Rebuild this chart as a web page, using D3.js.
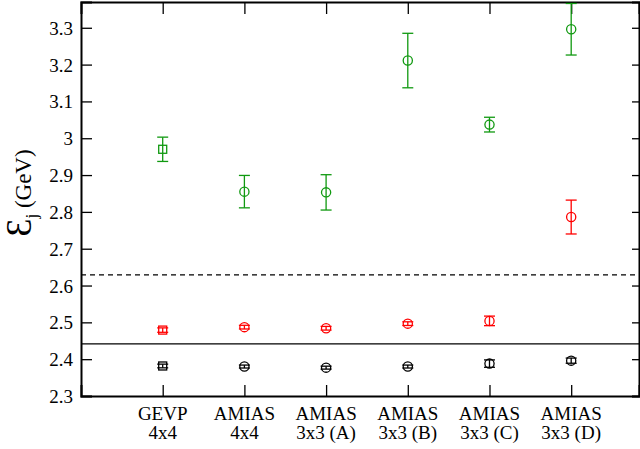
<!DOCTYPE html>
<html>
<head>
<meta charset="utf-8">
<script src="https://cdn.jsdelivr.net/npm/d3@7"></script>
<style>
  body { margin: 0; background: #fff; }
  svg { display: block; }
</style>
</head>
<body>
<svg id="chart" width="640" height="449"></svg>
<script>
// categories (two-line labels)
const categories = ["GEVP|4x4", "AMIAS|4x4", "AMIAS|3x3 (A)", "AMIAS|3x3 (B)", "AMIAS|3x3 (C)", "AMIAS|3x3 (D)"];
// marker shape per category
const shapes = ["square", "circle", "circle", "circle", "circle", "circle"];

// ground state (black)
const level0 = [2.3815, 2.380, 2.377, 2.380, 2.388, 2.396];
const level0Err = [0.005, 0.004, 0.004, 0.004, 0.010, 0.007];
// first excited (red)
const level1 = [2.479, 2.487, 2.484, 2.4965, 2.504, 2.786];
const level1Err = [0.006, 0.005, 0.005, 0.005, 0.013, 0.046];
// second excited (green)
const level2 = [2.970, 2.855, 2.853, 3.211, 3.037, 3.296];
const level2Err = [0.033, 0.044, 0.048, 0.074, 0.020, 0.070];

const yTicks = [2.3, 2.4, 2.5, 2.6, 2.7, 2.8, 2.9, 3.0, 3.1, 3.2, 3.3];
const solidLine = 2.4413;
const dashedLine = 2.629;

const serif = "'Liberation Serif', 'Times New Roman', Times, 'DejaVu Serif', serif";

const svg = d3.select("#chart");
const margin = { top: 2, right: 1, bottom: 53, left: 81 };
const width = 640, height = 449;

const x = d3.scaleLinear().domain([0, 6.83]).range([margin.left, width - margin.right]);
const y = d3.scaleLinear().domain([2.3, 3.37]).range([height - margin.bottom, margin.top]);

const series = [
  { vals: level0, errs: level0Err, color: "#000000" },
  { vals: level1, errs: level1Err, color: "#ff0000" },
  { vals: level2, errs: level2Err, color: "#109910" }
];

// reference lines
svg.append("line")
  .attr("x1", x(0)).attr("x2", x(6.83))
  .attr("y1", y(solidLine)).attr("y2", y(solidLine))
  .attr("stroke", "#000").attr("stroke-width", 1.2);
svg.append("line")
  .attr("x1", x(0)).attr("x2", x(6.83))
  .attr("y1", y(dashedLine)).attr("y2", y(dashedLine))
  .attr("stroke", "#000").attr("stroke-width", 1.2)
  .attr("stroke-dasharray", "5,4");

// axes: ticks point inward on all four sides
const yAxisL = d3.axisLeft(y).tickValues(yTicks).tickSize(-11).tickPadding(8)
  .tickFormat(d => d3.format("")(+d.toFixed(1)));
const gL = svg.append("g").attr("transform", `translate(${x(0)},0)`).call(yAxisL);
gL.attr("font-family", serif).attr("font-size", 19);
gL.selectAll("text").attr("fill", "#000").attr("dy", "0.34em");

const gR = svg.append("g").attr("transform", `translate(${x(6.83)},0)`)
  .call(d3.axisRight(y).tickValues(yTicks).tickSize(-7).tickFormat(""));

const xTicks = d3.range(1, categories.length + 1);
const gB = svg.append("g").attr("transform", `translate(0,${y(2.3)})`)
  .call(d3.axisBottom(x).tickValues(xTicks).tickSize(-11).tickFormat(""));
const gT = svg.append("g").attr("transform", `translate(0,${y(3.37)})`)
  .call(d3.axisTop(x).tickValues(xTicks).tickSize(-12).tickFormat(""));

[gL, gR, gB, gT].forEach(g => {
  g.select(".domain").attr("stroke", "#000").attr("stroke-width", 2);
  g.selectAll(".tick line").attr("stroke", "#000").attr("stroke-width", 1.3);
});

// x category labels
const lab = svg.append("g").attr("font-family", serif).attr("font-size", 19)
  .attr("text-anchor", "middle").attr("fill", "#000");
categories.forEach((c, i) => {
  const parts = c.split("|");
  const t = lab.append("text").attr("x", x(i + 1)).attr("y", y(2.3) + 24);
  t.append("tspan").attr("x", x(i + 1)).text(parts[0]);
  t.append("tspan").attr("x", x(i + 1)).attr("dy", 19).text(parts[1]);
});

// points with error bars
series.forEach(s => {
  const g = svg.append("g").attr("stroke", s.color).attr("fill", "none").attr("stroke-width", 1.3);
  s.vals.forEach((v, i) => {
    const cx = x(i + 1), cy = y(v);
    const y1 = y(Math.min(v + s.errs[i], 3.37)), y2 = y(v - s.errs[i]);
    g.append("line").attr("x1", cx).attr("x2", cx).attr("y1", y1).attr("y2", y2);
    g.append("line").attr("x1", cx - 5.5).attr("x2", cx + 5.5).attr("y1", y1).attr("y2", y1);
    g.append("line").attr("x1", cx - 5.5).attr("x2", cx + 5.5).attr("y1", y2).attr("y2", y2);
    if (shapes[i] === "square") {
      g.append("rect").attr("x", cx - 4).attr("y", cy - 4).attr("width", 8).attr("height", 8);
    } else {
      g.append("circle").attr("cx", cx).attr("cy", cy).attr("r", 4.6);
    }
  });
});

// y axis title
const yt = svg.append("text")
  .attr("transform", `translate(31,193) rotate(-90)`)
  .attr("font-family", serif)
  .attr("text-anchor", "middle").attr("fill", "#000");
yt.append("tspan").attr("font-size", 36).text("Ɛ");
yt.append("tspan").attr("font-size", 17).attr("dy", 6).text("j");
yt.append("tspan").attr("font-size", 23).attr("dy", -6).text(" (GeV)");
</script>
</body>
</html>
